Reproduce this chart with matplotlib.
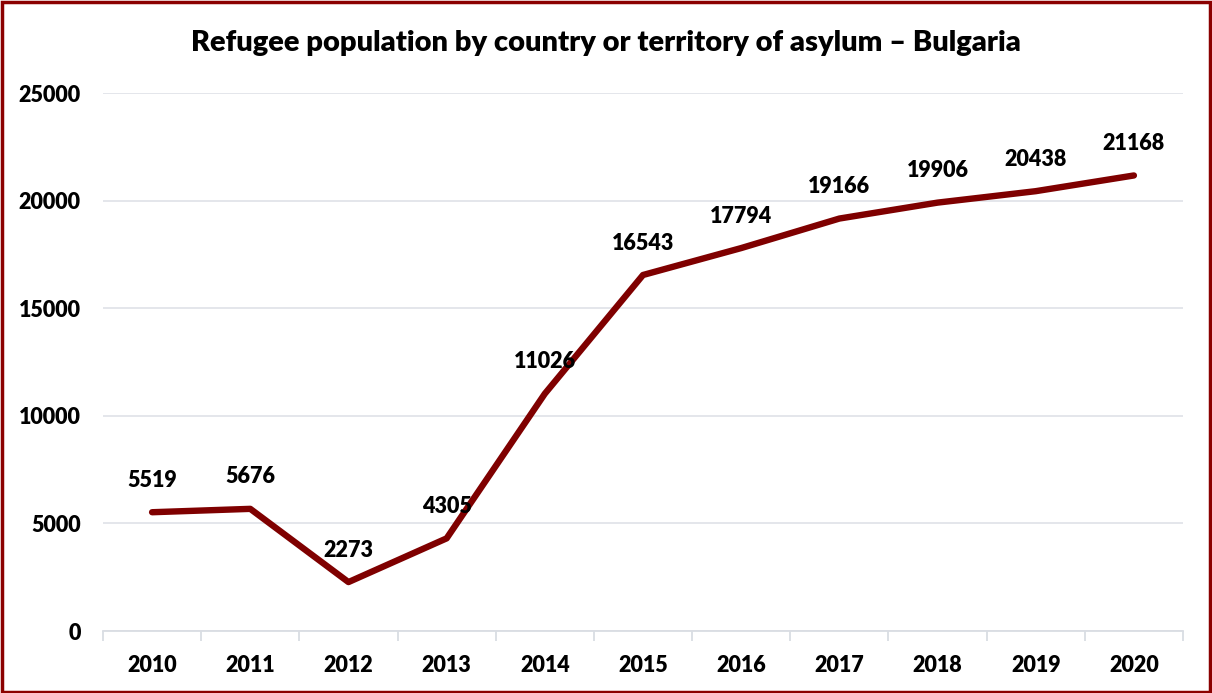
import matplotlib
matplotlib.use("Agg")
import matplotlib.pyplot as plt
from matplotlib.patches import Rectangle

years = ["2010", "2011", "2012", "2013", "2014", "2015", "2016", "2017", "2018", "2019", "2020"]
refugees = [5519, 5676, 2273, 4305, 11026, 16543, 17794, 19166, 19906, 20438, 21168]
yticks = [0, 5000, 10000, 15000, 20000, 25000]
title = "Refugee population by country or territory of asylum \u2013 Bulgaria"

plt.rcParams['font.family'] = ['Lato', 'DejaVu Sans']
W, H = 1212, 693
fig = plt.figure(figsize=(W/100, H/100), dpi=100)
ax = fig.add_axes([103/W, 1-631/H, (1183-103)/W, (631-93)/H])

x = list(range(len(years)))
line_color = "#7f0000"
fw = "heavy"
ax.plot(x, refugees, color=line_color, lw=4.6, solid_capstyle='round', solid_joinstyle='round', zorder=3)
for xi, v in zip(x, refugees):
    ax.annotate(f"{v}", (xi, v), xytext=(0, 23), textcoords="offset points",
                ha="center", va="center", fontsize=15.5, fontweight=fw, color="black", zorder=4)

ax.set_xlim(-0.5, len(years) - 0.5)
ax.set_ylim(0, 25000)
ax.set_yticks(yticks)
ax.set_yticklabels([str(t) for t in yticks], fontsize=15.5, fontweight=fw)
ax.set_xticks(x)
ax.set_xticklabels(years, fontsize=15.5, fontweight=fw)
ax.set_xticks([i - 0.5 for i in range(len(years) + 1)], minor=True)
ax.tick_params(axis='x', which='major', length=0, pad=17)
ax.tick_params(axis='x', which='minor', length=7, color="#d9dde3", width=1.3)
ax.tick_params(axis='y', length=0, pad=16)
ax.grid(axis='y', color="#dfe2e8", lw=1.2, zorder=0)
for s in ["top", "right", "left"]:
    ax.spines[s].set_visible(False)
ax.spines["bottom"].set_color("#d9dde3")
ax.spines["bottom"].set_linewidth(1.3)

fig.text(0.5, 1-43/H, title, ha="center", va="center", fontsize=21, fontweight=fw)

fig.patches.append(Rectangle((0.0015, 0.002), 0.997, 0.995, transform=fig.transFigure,
                             fill=False, edgecolor="#8b0000", lw=2.5))
fig.savefig("out.png", dpi=100)
